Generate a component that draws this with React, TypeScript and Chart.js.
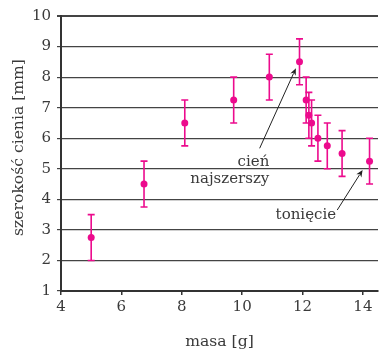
import React, { useEffect, useRef } from "react";
import { Chart, registerables } from "chart.js";

Chart.register(...registerables);

const masses = [5.0, 6.75, 8.1, 9.72, 10.9, 11.9, 12.12, 12.21, 12.3, 12.51, 12.82, 13.31, 14.22];
const widths = [2.75, 4.5, 6.5, 7.25, 8.0, 8.5, 7.25, 6.75, 6.5, 6.0, 5.75, 5.5, 5.25];
const errors = [0.75, 0.75, 0.75, 0.75, 0.75, 0.75, 0.75, 0.75, 0.75, 0.75, 0.75, 0.75, 0.75];

const xTickValues = [4, 6, 8, 10, 12, 14];
const yTickValues = [1, 2, 3, 4, 5, 6, 7, 8, 9, 10];

const xTitle = "masa [g]";
const yTitle = "szerokość cienia [mm]";

// annotation texts and arrows (data coordinates)
const noteWideLines = ["cień", "najszerszy"];
const noteWideX = 10.9; // right edge
const noteWideY = [5.23, 4.66];
const noteWideTail = [10.58, 5.67];
const noteWideHead = [11.78, 8.29];

const noteSinkText = "tonięcie";
const noteSinkX = 12.11; // center
const noteSinkY = 3.48;
const noteSinkTail = [13.15, 3.65];
const noteSinkHead = [13.99, 4.96];

const PINK = "#ec0b8d";
const TEXT = "#3a3a3a";
const FONT = "'DejaVu Serif', 'Liberation Serif', serif";
const FS = 15;
const FS_TITLE = 15.6;

const errorBarPlugin = {
  id: "errorBars",
  afterDatasetsDraw(chart: any) {
    const { ctx, scales } = chart;
    const xs = scales.x, ys = scales.y;
    ctx.save();
    ctx.strokeStyle = PINK;
    ctx.lineWidth = 1.6;
    for (let i = 0; i < masses.length; i++) {
      const px = xs.getPixelForValue(masses[i]);
      const top = ys.getPixelForValue(widths[i] + errors[i]);
      const bot = ys.getPixelForValue(widths[i] - errors[i]);
      ctx.beginPath();
      ctx.moveTo(px, top);
      ctx.lineTo(px, bot);
      ctx.moveTo(px - 3.5, top);
      ctx.lineTo(px + 3.5, top);
      ctx.moveTo(px - 3.5, bot);
      ctx.lineTo(px + 3.5, bot);
      ctx.stroke();
    }
    ctx.restore();
  },
};

function arrow(ctx: any, x1: number, y1: number, x2: number, y2: number) {
  const ang = Math.atan2(y2 - y1, x2 - x1);
  const L = 7, W = 3;
  ctx.beginPath();
  ctx.moveTo(x1, y1);
  ctx.lineTo(x2 - Math.cos(ang) * L * 0.8, y2 - Math.sin(ang) * L * 0.8);
  ctx.stroke();
  ctx.beginPath();
  ctx.moveTo(x2, y2);
  ctx.lineTo(x2 - Math.cos(ang) * L - Math.sin(ang) * W, y2 - Math.sin(ang) * L + Math.cos(ang) * W);
  ctx.lineTo(x2 - Math.cos(ang) * L * 0.7, y2 - Math.sin(ang) * L * 0.7);
  ctx.lineTo(x2 - Math.cos(ang) * L + Math.sin(ang) * W, y2 - Math.sin(ang) * L - Math.cos(ang) * W);
  ctx.closePath();
  ctx.fill();
}

const notePlugin = {
  id: "notes",
  afterDraw(chart: any) {
    const { ctx, scales } = chart;
    const xs = scales.x, ys = scales.y;
    ctx.save();
    ctx.fillStyle = TEXT;
    ctx.strokeStyle = "#222";
    ctx.lineWidth = 1;
    ctx.font = FS + "px " + FONT;
    ctx.textBaseline = "middle";
    ctx.textAlign = "right";
    const wx = xs.getPixelForValue(noteWideX);
    ctx.fillText(noteWideLines[0], wx, ys.getPixelForValue(noteWideY[0]));
    ctx.fillText(noteWideLines[1], wx, ys.getPixelForValue(noteWideY[1]));
    ctx.textAlign = "center";
    ctx.fillText(noteSinkText, xs.getPixelForValue(noteSinkX), ys.getPixelForValue(noteSinkY));
    ctx.fillStyle = "#222";
    arrow(ctx, xs.getPixelForValue(noteWideTail[0]), ys.getPixelForValue(noteWideTail[1]),
      xs.getPixelForValue(noteWideHead[0]), ys.getPixelForValue(noteWideHead[1]));
    arrow(ctx, xs.getPixelForValue(noteSinkTail[0]), ys.getPixelForValue(noteSinkTail[1]),
      xs.getPixelForValue(noteSinkHead[0]), ys.getPixelForValue(noteSinkHead[1]));
    // y axis title
    ctx.fillStyle = TEXT;
    ctx.font = FS_TITLE + "px " + FONT;
    ctx.translate(23, (ys.top + ys.bottom) / 2 - 6);
    ctx.rotate(-Math.PI / 2);
    ctx.textAlign = "center";
    ctx.textBaseline = "alphabetic";
    ctx.fillText(yTitle, 0, 0);
    ctx.restore();
  },
};

export default function App() {
  const ref = useRef<HTMLCanvasElement>(null);
  useEffect(() => {
    const chart = new Chart(ref.current as HTMLCanvasElement, {
      type: "scatter",
      data: {
        datasets: [
          {
            data: masses.map((m, i) => ({ x: m, y: widths[i] })),
            backgroundColor: PINK,
            borderColor: PINK,
            pointRadius: 3.5,
            pointBorderWidth: 0,
          },
        ],
      },
      plugins: [errorBarPlugin, notePlugin],
      options: {
        animation: false,
        responsive: false,
        maintainAspectRatio: false,
        layout: { padding: { top: 16, right: 1, left: 0, bottom: 0 } },
        plugins: { legend: { display: false }, tooltip: { enabled: false } },
        scales: {
          x: {
            type: "linear",
            min: 4,
            max: 14.5,
            afterFit: (s: any) => { s.height = 60; },
            afterBuildTicks: (s: any) => { s.ticks = xTickValues.map((v) => ({ value: v })); },
            border: { display: true, color: "#333", width: 2 },
            grid: { drawOnChartArea: false, drawTicks: true, tickLength: 4, color: "#333", lineWidth: 1.5 },
            ticks: { color: TEXT, font: { family: FONT, size: FS }, padding: 3, maxRotation: 0 },
            title: { display: true, text: xTitle, color: TEXT, font: { family: FONT, size: FS_TITLE }, padding: { top: 8, bottom: 0 } },
          },
          y: {
            type: "linear",
            min: 1,
            max: 10,
            afterFit: (s: any) => { s.width = 61; },
            afterBuildTicks: (s: any) => { s.ticks = yTickValues.map((v) => ({ value: v })); },
            border: { display: true, color: "#333", width: 2 },
            grid: {
              drawTicks: true,
              tickLength: 4,
              color: "#444",
              lineWidth: (c: any) => (c.tick && c.tick.value === 10 ? 2 : 1.2),
            },
            ticks: { color: TEXT, font: { family: FONT, size: FS }, padding: 6 },
            title: { display: false, text: yTitle },
          },
        },
      },
    } as any);
    return () => chart.destroy();
  }, []);
  return (
    <div style={{ position: "fixed", left: 0, top: 0, width: 382, height: 351, background: "#fff" }}>
      <canvas ref={ref} width={382} height={351} style={{ width: 382, height: 351 }} />
    </div>
  );
}
